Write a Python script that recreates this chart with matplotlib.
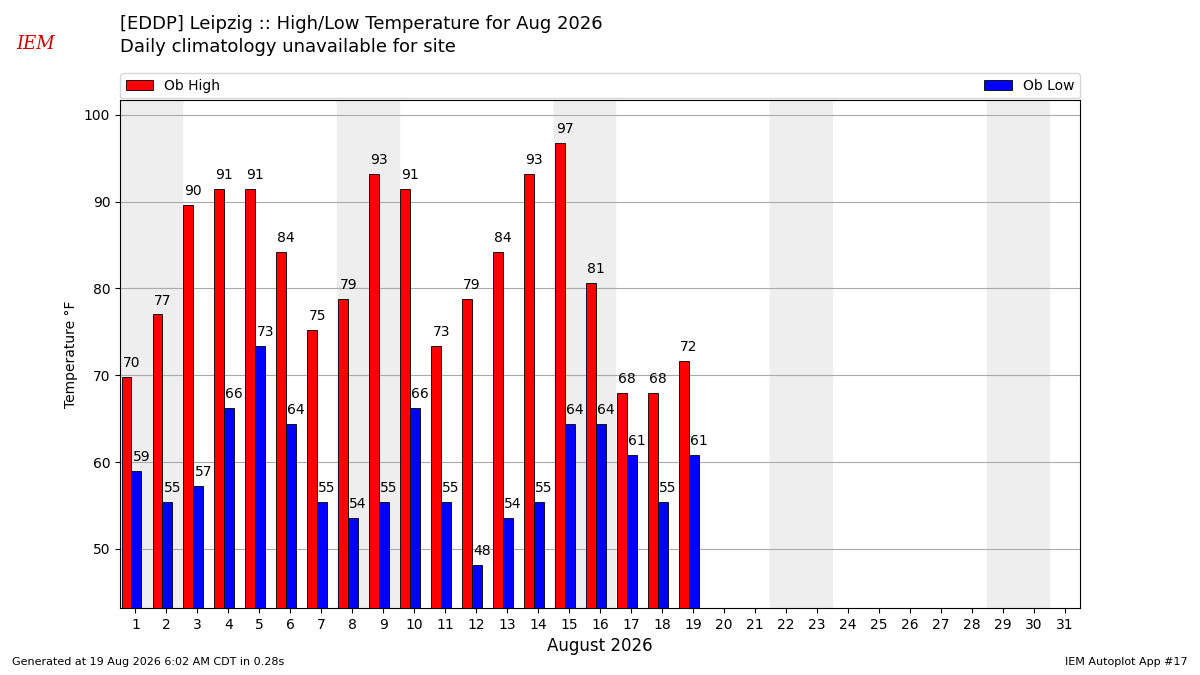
import matplotlib
matplotlib.use("Agg")
import matplotlib.pyplot as plt
import numpy as np

days = list(range(1, 20))
highs = [69.8, 77.0, 89.6, 91.4, 91.4, 84.2, 75.2, 78.8, 93.2, 91.4,
         73.4, 78.8, 84.2, 93.2, 96.8, 80.6, 68.0, 68.0, 71.6]
lows = [59.0, 55.4, 57.2, 66.2, 73.4, 64.4, 55.4, 53.6, 55.4, 66.2,
        55.4, 48.2, 53.6, 55.4, 64.4, 64.4, 60.8, 55.4, 60.8]
weekends = [1, 8, 15, 22, 29]  # Saturdays, shaded with following Sunday

fig = plt.figure(figsize=(12, 6.75), dpi=100)
ax = fig.add_axes([0.1, 0.0993, 0.8, 0.7526])

for sat in weekends:
    ax.axvspan(sat - 0.5, sat + 1.5, color="#eeeeee", zorder=0)

x = np.array(days)
w = 0.32
ax.bar(x - 0.29, highs, w, color="red", edgecolor="black", linewidth=0.6,
       label="Ob High", zorder=3)
ax.bar(x + 0.03, lows, w, color="blue", edgecolor="black", linewidth=0.6,
       label="Ob Low", zorder=3)
# labels sit at the right edge of each bar
for xi, h, l in zip(x, highs, lows):
    ax.text(xi - 0.13, h + 0.8, f"{h:.0f}", ha="center", va="bottom", fontsize=10)
    ax.text(xi + 0.19, l + 0.8, f"{l:.0f}", ha="center", va="bottom", fontsize=10)

ax.set_xlim(0.5, 31.5)
ax.set_ylim(43.2, 101.7)
ax.set_xticks(range(1, 32))
ax.set_yticks(range(50, 101, 10))
ax.grid(axis="y", color="#aaaaaa", linewidth=0.8, zorder=1)
ax.set_axisbelow(True)
ax.set_ylabel("Temperature \u00b0F")
ax.set_xlabel("August 2026", fontsize=12)

ax.legend(loc="lower left", bbox_to_anchor=(0, 1.003, 1, 0.05), ncol=2,
          mode="expand", borderaxespad=0, fontsize=10)

fig.text(0.1, 0.965, "[EDDP] Leipzig :: High/Low Temperature for Aug 2026",
         fontsize=13, va="center")
fig.text(0.1, 0.93, "Daily climatology unavailable for site",
         fontsize=13, va="center")
fig.text(0.03, 0.935, "IEM", color="#cc0000", fontsize=13, style="italic",
         family="serif", va="center", ha="center")
fig.text(0.01, 0.015, "Generated at 19 Aug 2026 6:02 AM CDT in 0.28s", fontsize=8)
fig.text(0.99, 0.015, "IEM Autoplot App #17", fontsize=8, ha="right")

fig.savefig("out.png", dpi=100)
